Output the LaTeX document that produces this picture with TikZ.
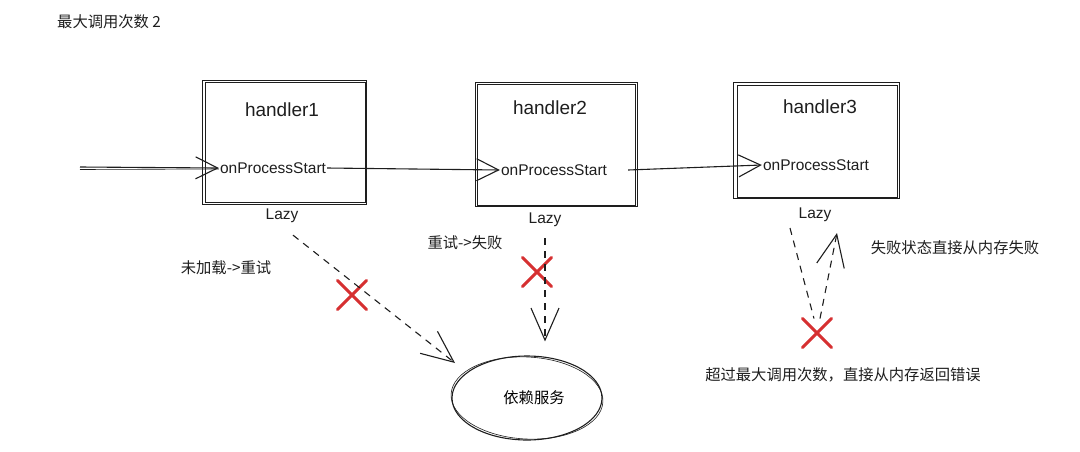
\documentclass[tikz,border=0pt]{standalone}
\usepackage{fontspec}
\setmainfont{Liberation Sans}
\newfontfamily\cjk{Noto Sans CJK SC}
\usetikzlibrary{arrows.meta,shapes.misc,shapes.geometric}
\definecolor{xred}{RGB}{214,48,49}
\definecolor{ink}{RGB}{30,30,30}
\tikzset{
  box/.style={draw=ink, line width=1pt, inner sep=0pt},
  sk/.style={draw=ink, line width=0.6pt},
  ttl/.style={font=\fontsize{19}{22}\selectfont, text=ink},
  fn/.style={font=\fontsize{15.5}{18}\selectfont, text=ink},
  lbl/.style={font=\cjk\fontsize{15.3}{18}\selectfont, text=ink},
  flow/.style={draw=ink, line width=1.1pt, -{Straight Barb[length=22pt,width=22pt,line width=1.1pt]}},
  dashline/.style={draw=ink, line width=1.1pt, dash pattern=on 7pt off 6pt},
  dasharrow/.style={dashline, -{Straight Barb[length=32pt,width=28pt,line width=1.1pt]}},
  xmark/.style={draw=xred, cross out, line width=3pt, minimum size=26pt, inner sep=0pt, line cap=round},
}
\begin{document}
\begin{tikzpicture}[x=1pt,y=-1pt]
\useasboundingbox (0,0) rectangle (1080,451);
% title
\node[lbl, anchor=west, inner sep=0pt] (title) at (57,22) {最大调用次数 2};
% boxes
\node[box, minimum width=160pt, minimum height=120pt] (h1) at (285,142) {};
\node[box, minimum width=158pt, minimum height=121pt] (h2) at (556,144.5) {};
\node[box, minimum width=160pt, minimum height=112pt] (h3) at (817,141) {};
\draw[sk] ([xshift=-2pt,yshift=1pt]h1.north west) rectangle ([xshift=1pt,yshift=-1.5pt]h1.south east);
\draw[sk] ([xshift=-1.5pt,yshift=1.5pt]h2.north west) rectangle ([xshift=1.5pt,yshift=-1pt]h2.south east);
\draw[sk] ([xshift=-3pt,yshift=2pt]h3.north west) rectangle ([xshift=1.5pt,yshift=-1pt]h3.south east);
% titles in boxes
\node[ttl] (t1) at (282,110) {handler1};
\node[ttl] (t2) at (550,108) {handler2};
\node[ttl] (t3) at (820,107) {handler3};
% onProcessStart
\node[fn, inner sep=1pt] (p1) at (273,168) {onProcessStart};
\node[fn, inner sep=1pt] (p2) at (554,170) {onProcessStart};
\node[fn, inner sep=1pt] (p3) at (816,165) {onProcessStart};
% Lazy
\node[fn] (l1) at (282,216) {Lazy};
\node[fn] (l2) at (545,220) {Lazy};
\node[fn] (l3) at (815,215) {Lazy};
% service
\node[ellipse, draw=ink, line width=1.1pt, minimum width=150pt, minimum height=84pt, font=\cjk\fontsize{15.3}{18}\selectfont] (svc) at (527,398) {\hspace{14pt}依赖服务};
\draw[sk, rotate around={-3:(svc.center)}] (svc.center) ellipse [x radius=76pt, y radius=41pt];
% flow arrows
\coordinate (in) at (80,167);
\draw[flow] (in) -- (p1.west);
\draw[sk] ([yshift=-2.5pt]in) -- ([yshift=-1pt]p1.west);
\draw[flow] (p1.east) -- (p2.west);
\draw[flow] ([xshift=20pt]p2.east) -- (p3.west);
% labels
\node[lbl] (la) at (226,268) {未加载->重试};
\node[lbl] (lb) at (465,243) {重试->失败};
\node[lbl] (lc) at (955,248) {失败状态直接从内存失败};
\node[lbl] (ld) at (843,375) {超过最大调用次数，直接从内存返回错误};
% red crosses
\node[xmark] (x1) at (352,295) {};
\node[xmark] (x2) at (537,272) {};
\node[xmark] (x3) at (817,333) {};
% dashed arrows
\coordinate (t1) at (455,363);
\draw[dasharrow, shorten <=14pt] (l1.south) -- (t1);
\draw[dasharrow, shorten <=8pt, shorten >=14pt] (l2.south) -- (l2.south |- svc.north);
\coordinate (a3) at (790,228);
\coordinate (b3) at (837,233);
\draw[dashline] (a3) -- ([xshift=-3pt]x3.north);
\draw[dasharrow] ([xshift=3pt]x3.north) -- (b3);
\end{tikzpicture}
\end{document}
